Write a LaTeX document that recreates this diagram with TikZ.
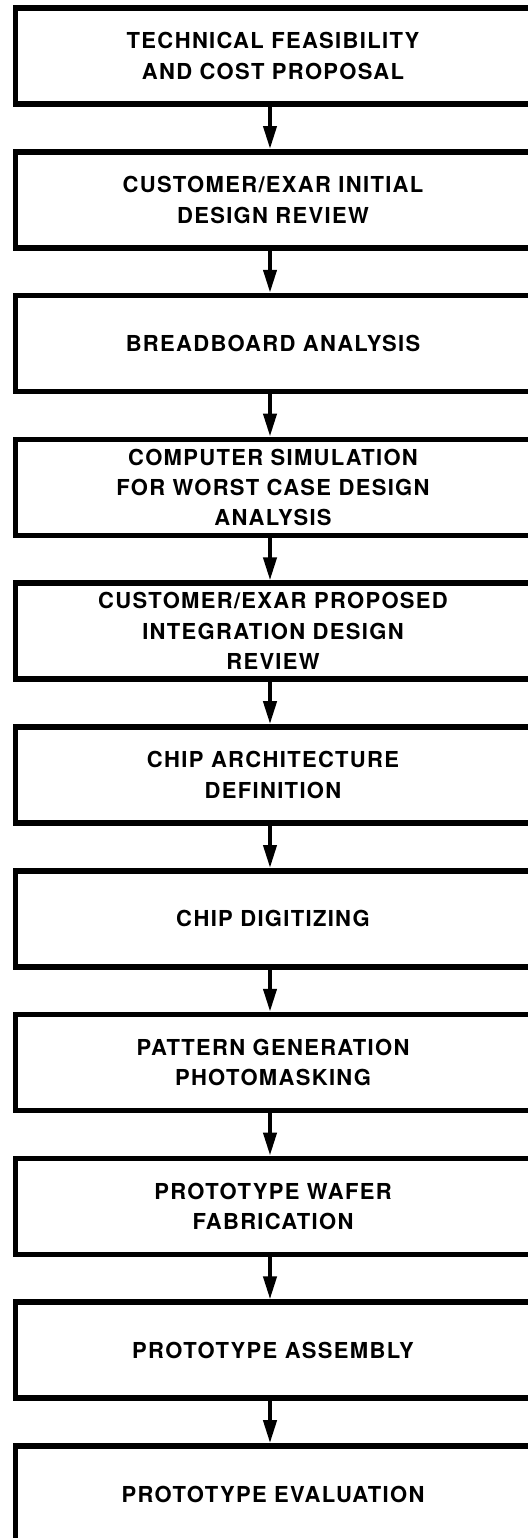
\documentclass[tikz,border=0pt]{standalone}
\usepackage{fontspec}
\setmainfont{TeX Gyre Heros}[LetterSpace=6]
\usetikzlibrary{positioning,arrows.meta}

\tikzset{
    stage/.style={draw, rectangle, line width=2.8pt, fill=white,
        minimum width=257.5pt, minimum height=48pt, inner sep=0pt,
        align=center, font=\bfseries\fontsize{11}{15.2}\selectfont},
    flow/.style={-{Triangle[length=11.5pt,width=6.5pt]}, line width=2pt}
}

\begin{document}
\begin{tikzpicture}[node distance=21.1pt]
    \useasboundingbox[fill=white] (0,0) rectangle (263.5pt,-769pt);

    % Stages of the custom design flow
    \node[stage] (tfp) at (136.5pt,-28pt) {TECHNICAL FEASIBILITY\\AND COST PROPOSAL};
    \node[stage, below=of tfp] (idr) {CUSTOMER/EXAR INITIAL\\DESIGN REVIEW};
    \node[stage, below=of idr] (bba) {BREADBOARD ANALYSIS};
    \node[stage, below=of bba] (sim) {COMPUTER SIMULATION\\FOR WORST CASE DESIGN\\ANALYSIS};
    \node[stage, below=of sim] (pdr) {CUSTOMER/EXAR PROPOSED\\INTEGRATION DESIGN\\REVIEW};
    \node[stage, below=of pdr] (arch) {CHIP ARCHITECTURE\\DEFINITION};
    \node[stage, below=of arch] (dig) {CHIP DIGITIZING};
    \node[stage, below=of dig] (pgen) {PATTERN GENERATION\\PHOTOMASKING};
    \node[stage, below=of pgen] (wfab) {PROTOTYPE WAFER\\FABRICATION};
    \node[stage, below=of wfab] (asm) {PROTOTYPE ASSEMBLY};
    \node[stage, below=of asm] (eval) {PROTOTYPE EVALUATION};

    % Arrows between consecutive stages
    \foreach \a/\b in {tfp/idr, idr/bba, bba/sim, sim/pdr, pdr/arch, arch/dig, dig/pgen, pgen/wfab, wfab/asm, asm/eval}
        \draw[flow] ([xshift=-1.5pt]\a.south) -- ([xshift=-1.5pt]\b.north);
\end{tikzpicture}
\end{document}
